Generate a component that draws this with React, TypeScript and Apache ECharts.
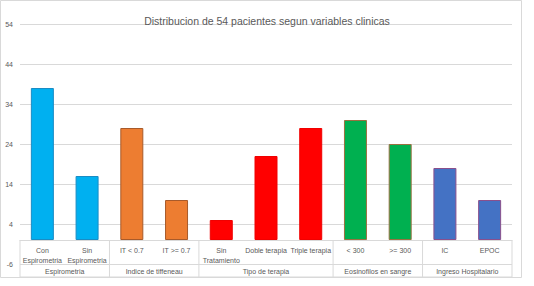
import React, { useEffect, useRef } from "react";
import * as echarts from "echarts";

const categories = [
  "Con\nEspirometria",
  "Sin\nEspirometria",
  "IT < 0.7",
  "IT >= 0.7",
  "Sin\nTratamiento",
  "Doble terapia",
  "Triple terapia",
  "< 300",
  ">= 300",
  "IC",
  "EPOC",
];
const values = [38, 16, 28, 10, 5, 21, 28, 30, 24, 18, 10];
const groupNames = [
  "Espirometria",
  "Indice de tiffeneau",
  "Tipo de terapia",
  "Eosinofilos en sangre",
  "Ingreso Hospitalario",
];
const groupSizes = [2, 2, 3, 2, 2];
const groupColors = ["#00B0F0", "#ED7D31", "#FF0000", "#00B050", "#4472C4"];
const groupBorders = ["#1A8CC4", "#A85A2A", "#F00000", "#9A7040", "#8A4F8C"];
const yTicks = [-6, 4, 14, 24, 34, 44, 54];
const titleText = "Distribucion de 54 pacientes segun variables clinicas";

export default function App() {
  const ref = useRef<HTMLDivElement>(null);
  useEffect(() => {
    if (!ref.current) return;
    const chart = echarts.init(ref.current, null, { renderer: "svg" });

    const catGroup: number[] = [];
    const centers: number[] = [];
    const bounds: number[] = [-0.5];
    let start = 0;
    groupSizes.forEach((n, g) => {
      for (let i = 0; i < n; i++) catGroup.push(g);
      centers.push(start + (n - 1) / 2);
      start += n;
      bounds.push(start - 0.5);
    });

    const font = "'Liberation Sans', Arial, sans-serif";
    const grey = "#D9D9D9";
    const textCol = "#595959";
    const yMin = yTicks[0];
    const yMax = yTicks[yTicks.length - 1];
    const gridTop = 24;
    const gridBottom = 22;
    const plotH = 286 - gridTop - gridBottom;
    // distance of the zero line above the plot bottom
    const zeroOffset = (-yMin / (yMax - yMin)) * plotH;

    chart.setOption({
      animation: false,
      textStyle: { fontFamily: font, color: textCol },
      title: {
        text: titleText,
        left: "center",
        top: 10,
        textStyle: { fontSize: 10.5, fontWeight: "normal", color: textCol, fontFamily: font },
      },
      graphic: [
        {
          type: "rect",
          shape: { x: 0.5, y: 0.5, width: 521, height: 277 },
          style: { fill: "none", stroke: grey, lineWidth: 1 },
          silent: true,
        },
      ],
      grid: { left: 20, right: 22, top: gridTop, bottom: gridBottom },
      xAxis: [
        {
          type: "category",
          data: categories,
          position: "bottom",
          offset: -zeroOffset,
          axisLine: { onZero: false, lineStyle: { color: grey } },
          axisTick: { show: false },
          axisLabel: {
            interval: 0,
            fontSize: 7,
            lineHeight: 10,
            margin: 5,
            color: textCol,
          },
        },
        {
          type: "value",
          min: -0.5,
          max: categories.length - 0.5,
          position: "bottom",
          axisLine: { show: false, onZero: false },
          axisTick: { show: false },
          splitLine: { show: false },
          axisLabel: {
            customValues: centers,
            fontSize: 7,
            margin: 4,
            color: textCol,
            formatter: (v: number) => {
              const i = centers.findIndex((c) => Math.abs(c - v) < 1e-6);
              return i >= 0 ? groupNames[i] : "";
            },
          },
        },
      ],
      yAxis: {
        type: "value",
        min: yMin,
        max: yMax,
        axisLine: { show: false },
        axisTick: { show: false, customValues: yTicks },
        axisLabel: { customValues: yTicks, fontSize: 7, color: textCol, margin: 7 },
        splitLine: { lineStyle: { color: grey } },
      },
      series: [
        {
          type: "bar",
          xAxisIndex: 0,
          barWidth: 23,
          data: values.map((v, i) => ({
            value: v,
            itemStyle: {
              color: groupColors[catGroup[i]],
              borderColor: groupBorders[catGroup[i]],
              borderWidth: 1,
            },
          })),
        },
        {
          type: "custom",
          xAxisIndex: 1,
          yAxisIndex: 0,
          clip: false,
          silent: true,
          data: bounds.map((b) => [b, 0]),
          renderItem: (params: any, api: any) => {
            const b = api.value(0);
            const top = api.coord([b, 0]);
            const low = api.coord([b, yMin]);
            const yb = low[1] + 13;
            const children: any[] = [
              {
                type: "line",
                shape: { x1: top[0], y1: top[1], x2: top[0], y2: yb },
                style: { stroke: grey, lineWidth: 1 },
              },
            ];
            if (params.dataIndex === 0) {
              const right = api.coord([bounds[bounds.length - 1], yMin]);
              children.push({
                type: "line",
                shape: { x1: top[0], y1: yb, x2: right[0], y2: yb },
                style: { stroke: grey, lineWidth: 1 },
              });
            }
            return { type: "group", children };
          },
        },
      ],
    });
    return () => chart.dispose();
  }, []);
  return (
    <div
      ref={ref}
      style={{ position: "fixed", left: 0, top: 0, width: 534, height: 286, background: "#fff" }}
    />
  );
}
